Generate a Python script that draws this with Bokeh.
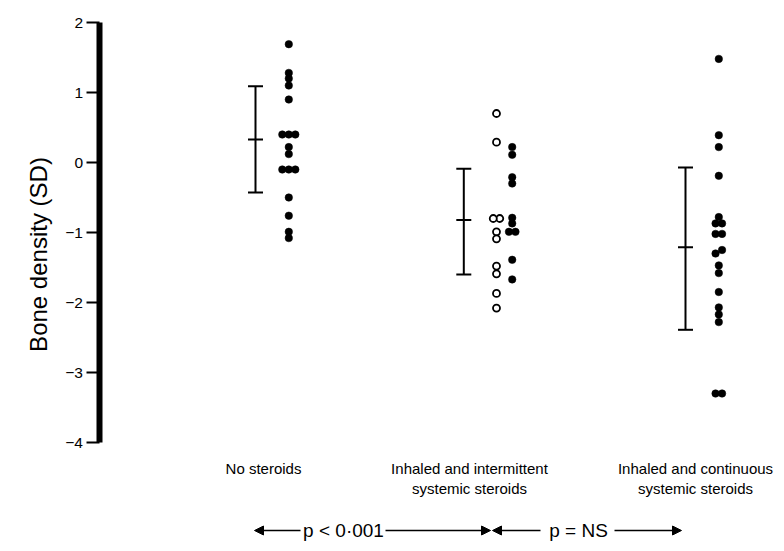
import math
from bokeh.plotting import figure
from bokeh.models import Range1d, LinearAxis, FixedTicker, Arrow, NormalHead
from bokeh.core.properties import value
from bokeh.embed import file_html
from bokeh.resources import INLINE

# ---------------- data ----------------
categories = ["No steroids",
              "Inhaled and intermittent\nsystemic steroids",
              "Inhaled and continuous\nsystemic steroids"]
no_steroids = [1.69, 1.28, 1.20, 1.10, 0.90, 0.40, 0.40, 0.40, 0.22, 0.12,
               -0.10, -0.10, -0.10, -0.50, -0.76, -0.99, -1.08]
intermittent_open = [0.70, 0.29, -0.80, -0.80, -0.99, -1.09, -1.48, -1.59, -1.87, -2.08]
intermittent_filled = [0.22, 0.11, -0.21, -0.30, -0.79, -0.87, -0.99, -0.99, -1.39, -1.67]
continuous = [1.48, 0.39, 0.22, -0.19, -0.78, -0.87, -0.87, -1.02, -1.02, -1.25, -1.30,
              -1.47, -1.58, -1.85, -2.07, -2.17, -2.28, -3.30, -3.30]
group_mean = [0.33, -0.82, -1.21]
group_low = [-0.43, -1.60, -2.39]
group_high = [1.09, -0.09, -0.07]
y_ticks = [-4, -3, -2, -1, 0, 1, 2]
y_tick_labels = ["\u22124", "\u22123", "\u22122", "\u22121", "0", "1", "2"]
y_title = "Bone density (SD)"
p_labels = ["p < 0\u00b7001", "p = NS"]

# ---------------- layout constants (screen px within the figure) ----------------
W, H = 776, 543
PX_PER_UNIT = 70.0
Y_TOP = 2 + 22 / PX_PER_UNIT
Y_BOTTOM = Y_TOP - H / PX_PER_UNIT
AXIS_X = 98.5
ERR_X = [255.0, 463.3, 685.0]
CAP_HALF = 7.5
DOT_X = {"g1": 288.3, "g2o": 496.0, "g2f": 511.7, "g3": 718.3}
LABEL_X = [263.0, 469.0, 695.0]
DOT_DX = 6.5


def y_at(fig_y):
    """data value that sits at a given figure pixel row"""
    return Y_TOP - fig_y / PX_PER_UNIT


def spread(vals, cx, tol=0.065, dx=DOT_DX):
    """place nearly equal values side by side"""
    order = sorted(vals, reverse=True)
    xs, ys = [], []
    i = 0
    while i < len(order):
        j = i
        while j + 1 < len(order) and order[i] - order[j + 1] < tol:
            j += 1
        n = j - i + 1
        for k in range(n):
            xs.append(cx + ((n - 1) / 2 - k) * dx)
            ys.append(order[i + k])
        i = j + 1
    return xs, ys


p = figure(width=W, height=H, output_backend="svg", toolbar_location=None,
           x_range=Range1d(0, W), y_range=Range1d(Y_BOTTOM, Y_TOP),
           x_axis_location=None, y_axis_location=None, min_border=0,
           outline_line_color=None, background_fill_color="white",
           border_fill_color="white")
p.grid.visible = False

yaxis = LinearAxis(fixed_location=AXIS_X, bounds=(-4, 2),
                   ticker=FixedTicker(ticks=y_ticks),
                   major_label_overrides={t: l for t, l in zip(y_ticks, y_tick_labels)},
                   axis_line_width=6, axis_line_color="black", axis_line_cap="butt",
                   major_tick_line_width=2, major_tick_line_color="black",
                   major_tick_out=13, major_tick_in=0,
                   minor_tick_out=0, minor_tick_in=0,
                   major_label_text_font="Liberation Sans",
                   major_label_text_font_size="15.5px",
                   major_label_text_color="black",
                   major_label_standoff=3)
p.add_layout(yaxis, "left")

# error bars (mean +/- SD)
p.segment(x0=ERR_X, y0=group_low, x1=ERR_X, y1=group_high, line_width=2, line_color="black")
for arr in (group_low, group_mean, group_high):
    p.segment(x0=[x - CAP_HALF for x in ERR_X], y0=arr,
              x1=[x + CAP_HALF for x in ERR_X], y1=arr,
              line_width=2, line_color="black")

# dots
for vals, key in ((no_steroids, "g1"), (intermittent_filled, "g2f"), (continuous, "g3")):
    xs, ys = spread(vals, DOT_X[key])
    p.scatter(xs, ys, size=7.5, fill_color="black", line_color="black", line_width=0.5)
xs, ys = spread(intermittent_open, DOT_X["g2o"])
p.scatter(xs, ys, size=7, fill_color="white", line_color="black", line_width=1.8)

# category labels
p.text(x=LABEL_X, y=[y_at(459)] * 3, text=categories,
       text_font=value("Liberation Sans"), text_font_size="15px",
       text_align="center", text_baseline="top", text_color="black",
       text_line_height=1.2)

# y-axis title
p.text(x=[37.5], y=[y_at(254)], text=[y_title], angle=math.pi / 2,
       text_font=value("Liberation Sans"), text_font_size="24px",
       text_align="center", text_baseline="middle", text_color="black")

# significance line with arrows
py = y_at(530)
p.text(x=[343.0, 578.0], y=[py, py], text=p_labels,
       text_font=value("Liberation Sans"), text_font_size="19px",
       text_align="center", text_baseline="middle", text_color="black")
for xs_, xe_ in ((300.0, 254.0), (385.0, 490.0), (540.0, 492.0), (614.0, 681.0)):
    p.add_layout(Arrow(end=NormalHead(size=9, fill_color="black", line_color="black",
                                      line_width=1),
                       x_start=xs_, y_start=py, x_end=xe_, y_end=py,
                       line_width=1.5, line_color="black"))

open("out.html", "w").write(file_html(p, INLINE))
